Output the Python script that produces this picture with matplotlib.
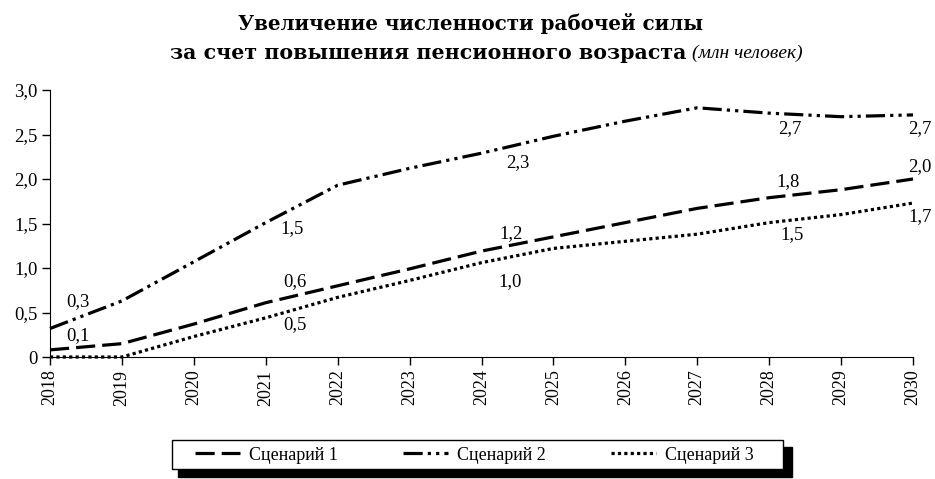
import matplotlib
matplotlib.use("Agg")
import matplotlib.pyplot as plt
from matplotlib.patches import Rectangle

plt.rcParams['font.family'] = ['Liberation Serif', 'DejaVu Serif']

years = list(range(2018, 2031))
scen1 = [0.08, 0.15, 0.37, 0.61, 0.80, 0.99, 1.19, 1.35, 1.51, 1.67, 1.79, 1.88, 2.00]
scen2 = [0.32, 0.63, 1.07, 1.51, 1.93, 2.12, 2.29, 2.48, 2.65, 2.80, 2.74, 2.70, 2.72]
scen3 = [0.00, 0.00, 0.23, 0.44, 0.67, 0.86, 1.06, 1.22, 1.30, 1.38, 1.51, 1.60, 1.73]
names = ['Сценарий 1', 'Сценарий 2', 'Сценарий 3']

# подписи значений: (серия, год, текст)
labels = [
    (1, 2018, '0,3'), (0, 2018, '0,1'),
    (1, 2021, '1,5'), (0, 2021, '0,6'), (2, 2021, '0,5'),
    (1, 2024, '2,3'), (0, 2024, '1,2'), (2, 2024, '1,0'),
    (1, 2028, '2,7'), (0, 2028, '1,8'), (2, 2028, '1,5'),
    (1, 2030, '2,7'), (0, 2030, '2,0'), (2, 2030, '1,7'),
]
# сдвиг подписей от точки, px
label_shift = [
    (28, 27), (28, 14),
    (26, -6), (29, 21), (29, -7),
    (36, -9), (30, 17), (29, -19),
    (21, -15), (19, 16), (23, -12),
    (7, -14), (7, 12), (7, -14),
]

styles = [(0, (6, 2.2)), (0, (6, 1.6, 1, 1.6, 1, 1.6)), (0, (1, 1))]

fig = plt.figure(figsize=(9.35, 4.79), dpi=100)
ax = fig.add_axes([50 / 935, 1 - 357 / 479, 863 / 935, 267 / 479])

series = [scen1, scen2, scen3]
handles = []
for s, ls in zip(series, styles):
    h, = ax.plot(years, s, color='black', lw=2.3, linestyle=ls,
                 dash_capstyle='butt', clip_on=False)
    handles.append(h)

for (si, yr, txt), (dx, dy) in zip(labels, label_shift):
    val = series[si][years.index(yr)]
    ax.annotate(txt, (yr, val), xytext=(dx * 0.72, dy * 0.72),
                textcoords='offset points', ha='center', va='center',
                fontsize=13.5)

ax.set_xlim(2018, 2030)
ax.set_ylim(0, 3.0)
ax.set_xticks(years)
ax.set_xticklabels([str(y) for y in years], rotation=90, fontsize=13)
ax.set_yticks([0, 0.5, 1.0, 1.5, 2.0, 2.5, 3.0])
ax.set_yticklabels(['0', '0,5', '1,0', '1,5', '2,0', '2,5', '3,0'], fontsize=13.5)
ax.spines['top'].set_visible(False)
ax.spines['right'].set_visible(False)
ax.tick_params(direction='out', length=6, width=1, pad=3)

fig.text(471 / 935, 1 - 24 / 479, 'Увеличение численности рабочей силы',
         ha='center', va='center', fontsize=14.3, fontweight='bold',
         family='DejaVu Serif')
fig.text(687 / 935, 1 - 53 / 479, 'за счет повышения пенсионного возраста',
         ha='right', va='center', fontsize=14.8, fontweight='bold',
         family='DejaVu Serif')
fig.text(692 / 935, 1 - 53 / 479, '(млн человек)',
         ha='left', va='center', fontsize=14, style='italic')

# рамка легенды с тенью
fig.patches.append(Rectangle((178 / 935, 1 - 477 / 479), 614 / 935, 30 / 479,
                             transform=fig.transFigure, color='black', zorder=0))
fig.patches.append(Rectangle((172 / 935, 1 - 469 / 479), 611 / 935, 29 / 479,
                             transform=fig.transFigure, facecolor='white',
                             edgecolor='black', lw=1, zorder=1))
fig.legend(handles, names, loc='center', bbox_to_anchor=(474 / 935, 1 - 455 / 479),
           ncol=3, frameon=False, fontsize=13, handlelength=2.5,
           columnspacing=3.6, handletextpad=0.5)

fig.savefig('out.png', dpi=100)
